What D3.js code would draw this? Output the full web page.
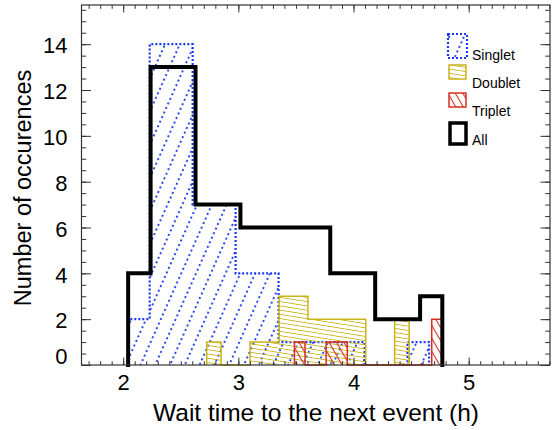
<!DOCTYPE html>
<html>
<head>
<meta charset="utf-8">
<script src="https://cdn.jsdelivr.net/npm/d3@7"></script>
<style>
  html, body { margin: 0; padding: 0; background: #fff; }
  svg { display: block; }
  text { font-family: "Liberation Sans", Arial, Helvetica, sans-serif; fill: #000; }
</style>
</head>
<body>
<svg id="chart" width="552" height="430"></svg>
<script>
// Histogram bin edges (hours) and counts for each event class
const singletEdges  = [2.043, 2.230, 2.417, 2.603, 2.790, 2.976, 3.163, 3.349, 3.536, 3.723, 3.909, 4.096, 4.282, 4.469, 4.656];
const singletCounts = [2, 14, 14, 7, 7, 4, 4, 1, 1, 1, 1, 0, 0, 1];

const doubletEdges  = [2.725, 2.850, 2.975, 3.101, 3.227, 3.353, 3.478, 3.604, 3.730, 3.855, 3.980, 4.106, 4.231, 4.357, 4.483];
const doubletCounts = [1, 0, 0, 1, 1, 3, 3, 2, 2, 2, 2, 0, 0, 2];

const tripletEdges  = [3.487, 3.579, 3.670, 3.762, 3.854, 3.946, 4.037, 4.129, 4.221, 4.312, 4.404, 4.496, 4.587, 4.679, 4.771];
const tripletCounts = [1, 0, 0, 1, 1, 0, 0, 0, 0, 0, 0, 0, 0, 2];

const allEdges  = [2.043, 2.238, 2.433, 2.628, 2.823, 3.018, 3.213, 3.408, 3.603, 3.798, 3.993, 4.188, 4.383, 4.578, 4.771];
const allCounts = [4, 13, 13, 7, 7, 6, 6, 6, 6, 4, 4, 2, 2, 3];

const seriesNames = ["Singlet", "Doublet", "Triplet", "All"];

const xMajorTicks = [2, 3, 4, 5];
const yMajorTicks = [0, 2, 4, 6, 8, 10, 12, 14];

const xLabel = "Wait time to the next event (h)";
const yLabel = "Number of occurences";

// ---- layout ----
const frame = { left: 81.5, right: 550, top: 5, bottom: 365 };
const x = d3.scaleLinear().domain([1.638, 5.706]).range([frame.left, frame.right]);
const y = d3.scaleLinear().domain([0, 15.71]).range([frame.bottom, frame.top]);

const svg = d3.select("#chart");
const defs = svg.append("defs");

const BLUE = "#1a38f0", GOLD = "#c9b318", RED = "#d3301f";

// hatch patterns
function hatch(id, spacing, angle, color, width, dash, horizontal) {
  const p = defs.append("pattern")
    .attr("id", id)
    .attr("patternUnits", "userSpaceOnUse")
    .attr("width", horizontal ? 40 : spacing)
    .attr("height", horizontal ? spacing : 40)
    .attr("patternTransform", `rotate(${angle})`);
  const l = p.append("line")
    .attr("stroke", color)
    .attr("stroke-width", width);
  if (horizontal) l.attr("x1", 0).attr("x2", 40).attr("y1", spacing / 2).attr("y2", spacing / 2);
  else l.attr("x1", spacing / 2).attr("x2", spacing / 2).attr("y1", 0).attr("y2", 40);
  if (dash) l.attr("stroke-dasharray", dash);
}
hatch("hatch-singlet", 13.5, 24, BLUE, 1.8, "2,3", false);
hatch("hatch-doublet", 4.2, 9, GOLD, 1, null, true);
hatch("hatch-triplet", 6.5, -30, RED, 1.1, null, false);

// step outline of a histogram
function stepPoints(edges, counts) {
  const pts = [[edges[0], 0]];
  counts.forEach((c, i) => { pts.push([edges[i], c]); pts.push([edges[i + 1], c]); });
  pts.push([edges[edges.length - 1], 0]);
  return pts;
}
const line = d3.line().x(d => x(d[0])).y(d => y(d[1]));

const plot = svg.append("g");

plot.append("path").attr("d", line(stepPoints(singletEdges, singletCounts)))
  .attr("fill", "url(#hatch-singlet)")
  .attr("stroke", BLUE).attr("stroke-width", 2.2).attr("stroke-dasharray", "2,2");

plot.append("path").attr("d", line(stepPoints(doubletEdges, doubletCounts)))
  .attr("fill", "url(#hatch-doublet)")
  .attr("stroke", GOLD).attr("stroke-width", 1.5);

plot.append("path").attr("d", line(stepPoints(tripletEdges, tripletCounts)))
  .attr("fill", "url(#hatch-triplet)")
  .attr("stroke", RED).attr("stroke-width", 1.5);

plot.append("path").attr("d", line(stepPoints(allEdges, allCounts)))
  .attr("fill", "none")
  .attr("stroke", "#000").attr("stroke-width", 4)
  .attr("stroke-linejoin", "miter").attr("stroke-linecap", "square");

// ---- axes (ticks on all four sides) ----
const AX = "#333";
const xMinor = d3.range(17, 58).map(v => v / 10).filter(v => v >= x.domain()[0] && v <= x.domain()[1]);
const yMinor = d3.range(0, 32).map(v => v / 2).filter(v => v <= y.domain()[1]);

function styleAxis(g) {
  g.select(".domain").remove();
  g.selectAll(".tick line").attr("stroke", AX).attr("stroke-width", 1);
}

// bottom
svg.append("g").attr("transform", `translate(0,${frame.bottom})`)
  .call(d3.axisBottom(x).tickValues(xMinor).tickSize(-3.8).tickFormat(""))
  .call(styleAxis);
svg.append("g").attr("transform", `translate(0,${frame.bottom})`)
  .call(d3.axisBottom(x).tickValues(xMajorTicks).tickSize(-7.5).tickPadding(9).tickFormat(d3.format("d")))
  .call(styleAxis)
  .call(g => g.selectAll(".tick text").attr("font-size", 22).attr("fill", "#000"));
// top
svg.append("g").attr("transform", `translate(0,${frame.top})`)
  .call(d3.axisTop(x).tickValues(xMinor).tickSize(-3.8).tickFormat(""))
  .call(styleAxis);
svg.append("g").attr("transform", `translate(0,${frame.top})`)
  .call(d3.axisTop(x).tickValues(xMajorTicks).tickSize(-7.5).tickFormat(""))
  .call(styleAxis);
// left
svg.append("g").attr("transform", `translate(${frame.left},0)`)
  .call(d3.axisLeft(y).tickValues(yMinor).tickSize(-4.8).tickFormat(""))
  .call(styleAxis);
svg.append("g").attr("transform", `translate(${frame.left},0)`)
  .call(d3.axisLeft(y).tickValues(yMajorTicks).tickSize(-9.5).tickPadding(14).tickFormat(d3.format("d")))
  .call(styleAxis)
  .call(g => g.selectAll(".tick text").attr("font-size", 22).attr("fill", "#000")
    .attr("dy", d => d === 0 ? "-0.05em" : "0.4em"));
// right
svg.append("g").attr("transform", `translate(${frame.right},0)`)
  .call(d3.axisRight(y).tickValues(yMinor).tickSize(-4.8).tickFormat(""))
  .call(styleAxis);
svg.append("g").attr("transform", `translate(${frame.right},0)`)
  .call(d3.axisRight(y).tickValues(yMajorTicks).tickSize(-9.5).tickFormat(""))
  .call(styleAxis);

// frame
svg.append("rect")
  .attr("x", frame.left).attr("y", frame.top)
  .attr("width", frame.right - frame.left).attr("height", frame.bottom - frame.top)
  .attr("fill", "none").attr("stroke", AX).attr("stroke-width", 1.2);

// axis titles
svg.append("text")
  .attr("x", 316).attr("y", 421)
  .attr("text-anchor", "middle").attr("font-size", 24.5)
  .text(xLabel);
svg.append("text")
  .attr("transform", `translate(31,188) rotate(-90)`)
  .attr("text-anchor", "middle").attr("font-size", 23.5)
  .text(yLabel);

// ---- legend ----
const legend = svg.append("g");
const legendItems = [
  { name: seriesNames[0], box: [448, 34, 19, 24], fill: "url(#hatch-singlet)", stroke: BLUE, sw: 2.2, dash: "2,2", ty: 60 },
  { name: seriesNames[1], box: [449, 65, 17, 14], fill: "url(#hatch-doublet)", stroke: GOLD, sw: 1.5, dash: null, ty: 88 },
  { name: seriesNames[2], box: [449, 93, 17, 14], fill: "url(#hatch-triplet)", stroke: RED, sw: 1.5, dash: null, ty: 116 },
  { name: seriesNames[3], box: [450, 123, 16, 21], fill: "none", stroke: "#000", sw: 3.5, dash: null, ty: 145 }
];
legendItems.forEach(it => {
  legend.append("rect")
    .attr("x", it.box[0]).attr("y", it.box[1]).attr("width", it.box[2]).attr("height", it.box[3])
    .attr("fill", it.fill).attr("stroke", it.stroke).attr("stroke-width", it.sw)
    .attr("stroke-dasharray", it.dash);
  legend.append("text")
    .attr("x", 472).attr("y", it.ty).attr("font-size", 14)
    .text(it.name);
});
</script>
</body>
</html>
